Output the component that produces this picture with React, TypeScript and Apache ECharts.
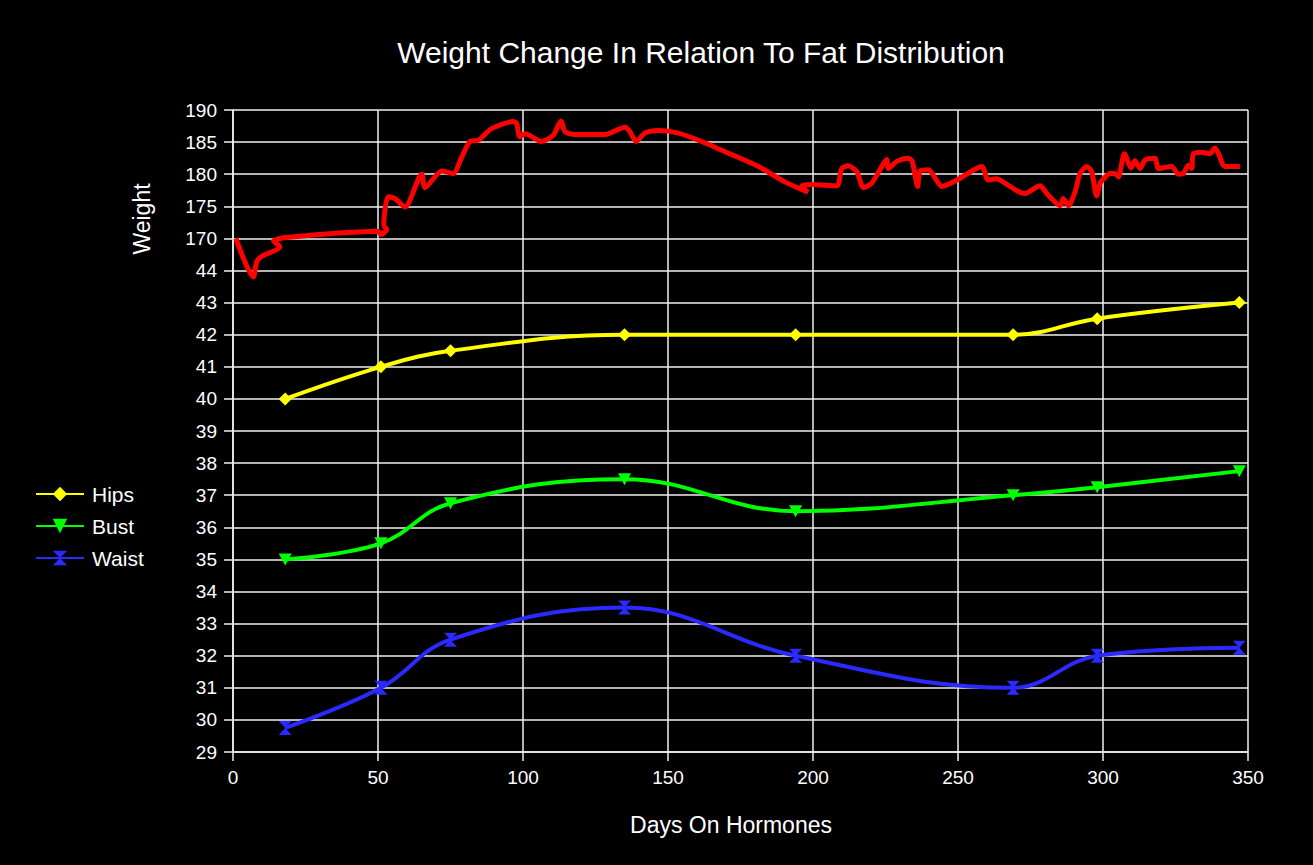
import React, { useEffect, useRef } from 'react';
import * as echarts from 'echarts';

const chartTitle = 'Weight Change In Relation To Fat Distribution';
const xAxisTitle = 'Days On Hormones';
const yAxisTitle = 'Weight';

const measureDays = [18, 51, 75, 135, 194, 269, 298, 347];
const hips = [40, 41, 41.5, 42, 42, 42, 42.5, 43];
const bust = [35, 35.5, 36.75, 37.5, 36.5, 37, 37.25, 37.75];
const waist = [29.75, 31, 32.5, 33.5, 32, 31, 32, 32.25];

const weightDays = [
  1, 7, 8.2, 9.9, 16.2, 14, 17.5, 50, 51, 53, 52, 53.5, 55.9, 59.3, 65.1, 66.2, 72, 75.9, 78.9, 81.7,
  84.6, 89.2, 96.7, 97.8, 98.9, 100.7, 106.4, 110.5, 113.1, 114.5, 117.9, 128.3, 135.2, 136.9, 139,
  142.1, 146.7, 153.6, 161.6, 169.7, 181.2, 190.3, 198.2, 196.1, 199.5, 208.2, 209.9, 212.2, 215.1,
  217.4, 220.2, 223.1, 225.4, 226, 228.9, 232.9, 234.2, 236.1, 236.9, 239.8, 242.1, 244.4, 250.1,
  258.2, 260.4, 263.3, 266.2, 270.8, 273.1, 278.3, 280.6, 285.2, 286.3, 288.1, 290.4, 292.1, 294.4,
  296.1, 297.8, 299, 300.7, 302.4, 304.1, 305.3, 307.4, 309.7, 311, 312.8, 314.5, 317.9, 319.1,
  323.7, 326, 327.7, 329.4, 330.6, 331.1, 334, 336.9, 338.6, 339.8, 342.1, 347.2,
];
const weightValues = [
  170, 164.0, 166.4, 167.2, 168.7, 169.6, 170.1, 171.1, 170.6, 171.4, 172, 176.5, 176.2, 174.9, 180.0,
  177.9, 180.5, 180.1, 182.7, 185.1, 185.3, 187.1, 188.2, 187.9, 185.8, 186.3, 185.1, 186.1, 188.3,
  186.6, 186.2, 186.2, 187.3, 186.6, 185.1, 186.4, 186.8, 186.4, 185.1, 183.5, 181.2, 178.8, 177.2,
  178.2, 178.4, 178.2, 180.9, 181.3, 180.4, 177.9, 178.6, 180.7, 182.3, 180.9, 182.0, 182.5, 182.0,
  178.1, 180.5, 180.7, 179.4, 178.1, 179.2, 181.2, 179.1, 179.3, 178.6, 177.3, 177.0, 178.2, 177.0,
  175.1, 176.2, 175.1, 177.3, 180.1, 181.2, 180.4, 176.6, 178.6, 179.5, 180.1, 180.1, 179.6, 183.2,
  181.0, 182.1, 180.9, 182.2, 182.5, 180.9, 181.2, 180.0, 180.1, 181.4, 180.9, 183.1, 183.4, 183.2,
  184.1, 183.2, 181.2, 181.2,
];

const yTickLabels = [
  '29', '30', '31', '32', '33', '34', '35', '36', '37', '38', '39', '40', '41', '42', '43', '44',
  '170', '175', '180', '185', '190',
];

const toMeasureIdx = (v: number) => v - 29;
const toWeightIdx = (w: number) => 16 + (w - 170) / 5;

const FONT = 'Liberation Sans, Arial, sans-serif';
const GRID_COLOR = '#f0f0f0';
const DIAMOND = 'diamond';
const DOWN_TRI = 'path://M0,0 L10,0 L5,10 Z';
const HOURGLASS = 'path://M0,0 L10,0 L5,6 L10,12 L0,12 L5,6 Z';

export default function App() {
  const ref = useRef<HTMLDivElement>(null);

  useEffect(() => {
    document.body.style.margin = '0';
    document.body.style.background = '#000';
    const chart = echarts.init(ref.current!, null, { renderer: 'svg' });

    const measureSeries = (name: string, vals: number[], color: string, symbol: string, size: number | number[]) => ({
      name,
      type: 'line',
      smooth: 0.4,
      data: measureDays.map((d, i) => [d, toMeasureIdx(vals[i])]),
      symbol,
      symbolSize: size,
      showSymbol: true,
      lineStyle: { color, width: 4 },
      itemStyle: { color, borderWidth: 0 },
      z: 3,
    });

    chart.setOption({
      animation: false,
      backgroundColor: '#000000',
      textStyle: { fontFamily: FONT, color: '#fff' },
      grid: { left: 233, right: 65, top: 110, bottom: 113, containLabel: false, outerBoundsMode: 'none' },
      legend: {
        data: ['Hips', 'Bust', 'Waist'],
        orient: 'vertical',
        left: 35,
        top: 483,
        padding: 0,
        itemWidth: 48,
        itemHeight: 18,
        itemGap: 10,
        textStyle: { color: '#fff', fontSize: 21, lineHeight: 22, fontFamily: FONT, padding: [0, 0, 0, 3] },
      },
      xAxis: {
        type: 'value',
        min: 0,
        max: 350,
        interval: 50,
        axisLine: { show: true, onZero: false, lineStyle: { color: GRID_COLOR, width: 1.5 } },
        axisTick: { show: true, length: 9, inside: false, lineStyle: { color: GRID_COLOR, width: 1.5 } },
        axisLabel: { color: '#fff', fontSize: 19, margin: 16, fontFamily: FONT },
        splitLine: { show: true, lineStyle: { color: GRID_COLOR, width: 1.5 } },
      },
      yAxis: {
        type: 'value',
        min: 0,
        max: 20,
        interval: 1,
        axisLine: { show: true, lineStyle: { color: GRID_COLOR, width: 1.5 } },
        axisTick: { show: true, length: 9, inside: false, lineStyle: { color: GRID_COLOR, width: 1.5 } },
        axisLabel: {
          color: '#fff',
          fontSize: 19,
          margin: 16,
          fontFamily: FONT,
          formatter: (v: number) => yTickLabels[Math.round(v)] ?? '',
        },
        splitLine: { show: true, lineStyle: { color: GRID_COLOR, width: 1.5 } },
      },
      graphic: [
        {
          type: 'text',
          x: 701,
          y: 52,
          style: { text: chartTitle, fill: '#fff', font: `30px ${FONT}`, textAlign: 'center', textVerticalAlign: 'middle' },
        },
        {
          type: 'text',
          x: 731,
          y: 825,
          style: { text: xAxisTitle, fill: '#fff', font: `23px ${FONT}`, textAlign: 'center', textVerticalAlign: 'middle' },
        },
        {
          type: 'text',
          x: 142,
          y: 219,
          rotation: Math.PI / 2,
          style: { text: yAxisTitle, fill: '#fff', font: `23px ${FONT}`, textAlign: 'center', textVerticalAlign: 'middle' },
        },
      ],
      series: [
        {
          name: 'Weight',
          type: 'line',
          smooth: 0.25,
          showSymbol: false,
          symbol: 'none',
          data: weightDays.map((d, i) => [d, toWeightIdx(weightValues[i])]),
          lineStyle: { color: '#ff0000', width: 5 },
          itemStyle: { color: '#ff0000' },
          z: 4,
        },
        measureSeries('Hips', hips, '#ffff00', DIAMOND, 13),
        measureSeries('Bust', bust, '#00ff00', DOWN_TRI, [13, 12]),
        measureSeries('Waist', waist, '#2a2aff', HOURGLASS, [13, 14]),
      ],
    });

    return () => chart.dispose();
  }, []);

  return <div ref={ref} style={{ position: 'absolute', left: 0, top: 0, width: 1313, height: 865 }} />;
}
